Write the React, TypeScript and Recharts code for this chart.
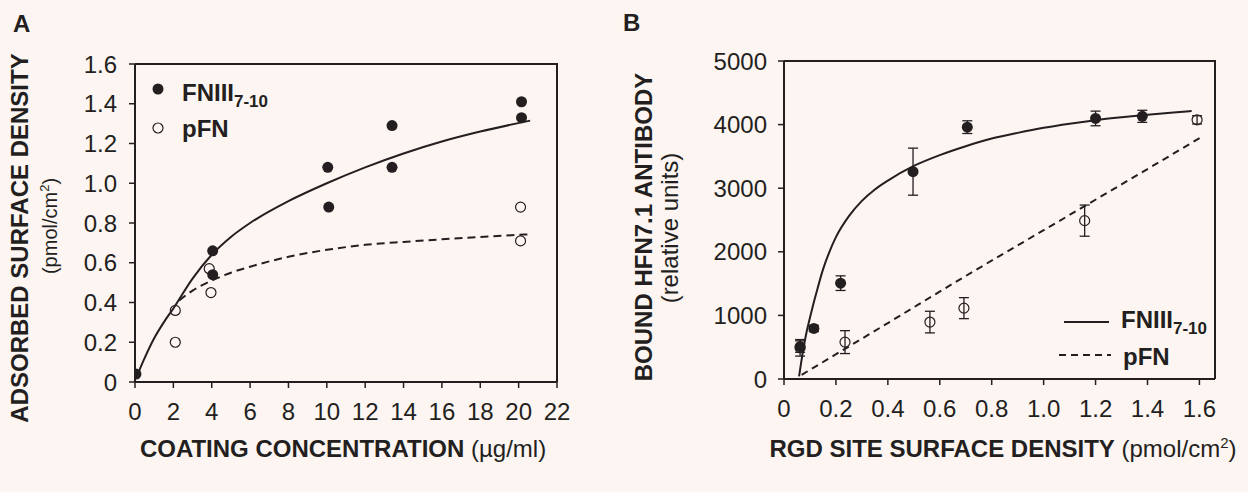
import React from 'react';
import { ComposedChart, Line, Scatter, XAxis, YAxis, ErrorBar, Legend, Label } from 'recharts';

const BG = '#fcf5f2';
const INK = '#231f20';
const FONT = '"Liberation Sans", Arial, Helvetica, sans-serif';

// ---- panel A: adsorbed surface density vs coating concentration
const coatingTicks = [0, 2, 4, 6, 8, 10, 12, 14, 16, 18, 20, 22];
const adsorbedTicks = [0, 0.2, 0.4, 0.6, 0.8, 1.0, 1.2, 1.4, 1.6];

const fnAdsorbed = [
  { x: 0.05, y: 0.04 },
  { x: 4.05, y: 0.66 },
  { x: 4.05, y: 0.54 },
  { x: 10.05, y: 1.08 },
  { x: 10.1, y: 0.88 },
  { x: 13.4, y: 1.29 },
  { x: 13.4, y: 1.08 },
  { x: 20.15, y: 1.41 },
  { x: 20.15, y: 1.33 },
];
const pfnAdsorbed = [
  { x: 2.1, y: 0.36 },
  { x: 2.1, y: 0.2 },
  { x: 3.87, y: 0.57 },
  { x: 3.96, y: 0.45 },
  { x: 20.1, y: 0.88 },
  { x: 20.1, y: 0.71 },
];
// fitted curves
const fnAdsorbedFit = [
  { x: 0.1, y: 0.03 }, { x: 0.5, y: 0.12 }, { x: 1, y: 0.22 }, { x: 1.5, y: 0.3 },
  { x: 2, y: 0.37 }, { x: 3, y: 0.52 }, { x: 4, y: 0.64 }, { x: 5, y: 0.73 },
  { x: 6, y: 0.8 }, { x: 8, y: 0.91 }, { x: 10, y: 1.0 }, { x: 12, y: 1.08 },
  { x: 14, y: 1.15 }, { x: 16, y: 1.21 }, { x: 18, y: 1.26 }, { x: 20.6, y: 1.315 },
];
const pfnAdsorbedFit = [
  { x: 2.3, y: 0.41 }, { x: 3, y: 0.46 }, { x: 4, y: 0.51 }, { x: 5, y: 0.55 },
  { x: 6, y: 0.58 }, { x: 8, y: 0.63 }, { x: 10, y: 0.665 }, { x: 12, y: 0.69 },
  { x: 14, y: 0.705 }, { x: 16, y: 0.718 }, { x: 18, y: 0.73 }, { x: 20.6, y: 0.743 },
];

// ---- panel B: bound antibody vs RGD site surface density
const rgdTicks = [0, 0.2, 0.4, 0.6, 0.8, 1.0, 1.2, 1.4, 1.6];
const antibodyTicks = [0, 1000, 2000, 3000, 4000, 5000];

const fnBound = [
  { x: 0.062, y: 510, err: 90 },
  { x: 0.115, y: 795, err: 50 },
  { x: 0.218, y: 1507, err: 115 },
  { x: 0.497, y: 3260, err: 370 },
  { x: 0.706, y: 3960, err: 100 },
  { x: 1.2, y: 4097, err: 115 },
  { x: 1.38, y: 4130, err: 95 },
];
const pfnBound = [
  { x: 0.062, y: 490, err: 130 },
  { x: 0.235, y: 580, err: 180 },
  { x: 0.562, y: 895, err: 170 },
  { x: 0.693, y: 1114, err: 165 },
  { x: 1.158, y: 2490, err: 245 },
  { x: 1.591, y: 4075, err: 65 },
];
const fnBoundFit = [
  { x: 0.058, y: 40 }, { x: 0.065, y: 230 }, { x: 0.075, y: 480 }, { x: 0.085, y: 700 },
  { x: 0.095, y: 880 }, { x: 0.11, y: 1130 }, { x: 0.125, y: 1360 }, { x: 0.15, y: 1720 },
  { x: 0.175, y: 2000 }, { x: 0.2, y: 2230 }, { x: 0.25, y: 2560 }, { x: 0.3, y: 2800 },
  { x: 0.35, y: 2980 }, { x: 0.4, y: 3120 }, { x: 0.5, y: 3350 }, { x: 0.6, y: 3520 },
  { x: 0.7, y: 3660 }, { x: 0.8, y: 3780 }, { x: 0.9, y: 3870 }, { x: 1.0, y: 3950 },
  { x: 1.1, y: 4015 }, { x: 1.2, y: 4070 }, { x: 1.3, y: 4115 }, { x: 1.4, y: 4155 },
  { x: 1.5, y: 4190 }, { x: 1.57, y: 4212 },
];
const pfnBoundFit = [
  { x: 0.068, y: 65 }, { x: 0.4, y: 880 }, { x: 0.7, y: 1620 },
  { x: 1.0, y: 2340 }, { x: 1.3, y: 3060 }, { x: 1.61, y: 3810 },
];

const fmtDec = (v: number) => (v === 0 ? '0' : v.toFixed(1));
const fmtInt = (v: number) => String(v);

const axisLine = { stroke: INK, strokeWidth: 2 };
const tickLine = { stroke: INK, strokeWidth: 1.5 };

// layout of the two panels
const A = { left: 0, w: 600, h: 492, top: 64, right: 43, yw: 135, xh: 110 };
const B = { left: 600, w: 648, h: 492, top: 61, right: 33, yw: 184, xh: 113 };

const makeTick = (fmt: (v: number) => string, side: 'bottom' | 'left') => (props: any) => (
  <text
    x={props.x}
    y={props.y}
    dy={side === 'bottom' ? '0.71em' : '0.36em'}
    textAnchor={side === 'bottom' ? 'middle' : 'end'}
    fontSize={24}
    fill={INK}
    fontFamily={FONT}
  >
    {fmt(props.payload.value)}
  </text>
);

const filledDot = (p: any) => <circle cx={p.cx} cy={p.cy} r={5.5} fill={INK} />;
const openDot = (p: any) => (
  <circle cx={p.cx} cy={p.cy} r={5} fill="none" stroke={INK} strokeWidth={1.2} />
);

const FnLabel = ({ x, y }: { x: number; y: number }) => (
  <text x={x} y={y} fontSize={24} fontWeight="bold" fill={INK} fontFamily={FONT}>
    FNIII
    <tspan fontSize={17} dy={6}>7-10</tspan>
  </text>
);
const PfnLabel = ({ x, y }: { x: number; y: number }) => (
  <text x={x} y={y} fontSize={24} fontWeight="bold" fill={INK} fontFamily={FONT}>
    pFN
  </text>
);

const LegendA = () => (
  <svg width={200} height={80}>
    <circle cx={13} cy={19} r={5.5} fill={INK} />
    <FnLabel x={37} y={31} />
    <circle cx={13} cy={58} r={5} fill="none" stroke={INK} strokeWidth={1.2} />
    <PfnLabel x={37} y={67} />
  </svg>
);

const LegendB = () => (
  <svg width={170} height={80}>
    <line x1={9} x2={54} y1={27} y2={27} stroke={INK} strokeWidth={2} />
    <FnLabel x={66} y={33} />
    <line x1={4} x2={56} y1={60} y2={60} stroke={INK} strokeWidth={2} strokeDasharray="7 5" />
    <PfnLabel x={68} y={70} />
  </svg>
);

const TitlesA = () => (
  <g fontFamily={FONT} fill={INK}>
    <text x={13} y={32} fontSize={24} fontWeight="bold">A</text>
    <text transform="translate(28,238) rotate(-90)" textAnchor="middle" fontSize={24} fontWeight="bold">
      ADSORBED SURFACE DENSITY
    </text>
    <text transform="translate(57,226) rotate(-90)" textAnchor="middle" fontSize={20}>
      (pmol/cm<tspan fontSize={13} dy={-8}>2</tspan>
      <tspan dy={8}>)</tspan>
    </text>
  </g>
);
const XTitleA = () => (
  <text x={343} y={457} textAnchor="middle" fontSize={24} fill={INK} fontFamily={FONT}>
    <tspan fontWeight="bold">COATING CONCENTRATION</tspan>
    <tspan>{' (µg/ml)'}</tspan>
  </text>
);

const TitlesB = () => (
  <g fontFamily={FONT} fill={INK}>
    <text x={23} y={31} fontSize={24} fontWeight="bold">B</text>
    <text transform="translate(52,227) rotate(-90)" textAnchor="middle" fontSize={24} fontWeight="bold">
      {'BOUND HFN7.1  ANTIBODY'}
    </text>
    <text transform="translate(78,228) rotate(-90)" textAnchor="middle" fontSize={24}>
      (relative units)
    </text>
  </g>
);
const XTitleB = () => (
  <text x={403} y={457} textAnchor="middle" fontSize={24} fill={INK} fontFamily={FONT}>
    <tspan fontWeight="bold">RGD SITE SURFACE DENSITY</tspan>
    <tspan>{' (pmol/cm'}</tspan>
    <tspan fontSize={15} dy={-9}>2</tspan>
    <tspan dy={9}>)</tspan>
  </text>
);

// top and right edges of a panel's plot box
const Frame = ({ p }: { p: typeof A }) => (
  <div
    style={{
      position: 'absolute',
      left: p.left + p.yw,
      top: p.top - 1,
      width: p.w - p.right - p.yw + 1,
      height: p.h - p.xh - p.top + 1,
      borderTop: `2px solid ${INK}`,
      borderRight: `2px solid ${INK}`,
      boxSizing: 'border-box',
      pointerEvents: 'none',
    }}
  />
);

function PanelA() {
  return (
    <ComposedChart width={A.w} height={A.h} margin={{ top: A.top, right: A.right, bottom: 0, left: 0 }}>
      <XAxis
        type="number"
        dataKey="x"
        domain={[0, 22]}
        ticks={coatingTicks}
        interval={0}
        allowDataOverflow
        height={A.xh}
        tick={makeTick(fmtInt, 'bottom')}
        tickLine={tickLine}
        axisLine={axisLine}
        tickSize={6}
        tickMargin={15}
      >
        <Label content={XTitleA} />
      </XAxis>
      <YAxis
        type="number"
        dataKey="y"
        domain={[0, 1.6]}
        ticks={adsorbedTicks}
        interval={0}
        allowDataOverflow
        width={A.yw}
        tick={makeTick(fmtDec, 'left')}
        tickLine={tickLine}
        axisLine={axisLine}
        tickSize={6}
        tickMargin={12}
      >
        <Label content={TitlesA} />
      </YAxis>
      <Line data={fnAdsorbedFit} dataKey="y" type="monotone" stroke={INK} strokeWidth={2} dot={false} legendType="none" isAnimationActive={false} />
      <Line data={pfnAdsorbedFit} dataKey="y" type="monotone" stroke={INK} strokeWidth={2} strokeDasharray="8 5" dot={false} legendType="none" isAnimationActive={false} />
      <Scatter data={pfnAdsorbed} dataKey="y" shape={openDot} isAnimationActive={false} />
      <Scatter data={fnAdsorbed} dataKey="y" shape={filledDot} isAnimationActive={false} />
      <Legend
        layout="horizontal"
        verticalAlign="middle"
        align="center"
        content={() => <LegendA />}
        wrapperStyle={{ left: 145, top: 70, width: 200, height: 80 }}
      />
    </ComposedChart>
  );
}

function PanelB() {
  return (
    <ComposedChart width={B.w} height={B.h} margin={{ top: B.top, right: B.right, bottom: 0, left: 0 }}>
      <XAxis
        type="number"
        dataKey="x"
        domain={[0, 1.66]}
        ticks={rgdTicks}
        interval={0}
        allowDataOverflow
        height={B.xh}
        tick={makeTick(fmtDec, 'bottom')}
        tickLine={tickLine}
        axisLine={axisLine}
        tickSize={6}
        tickMargin={15}
      >
        <Label content={XTitleB} />
      </XAxis>
      <YAxis
        type="number"
        dataKey="y"
        domain={[0, 5000]}
        ticks={antibodyTicks}
        interval={0}
        allowDataOverflow
        width={B.yw}
        tick={makeTick(fmtInt, 'left')}
        tickLine={tickLine}
        axisLine={axisLine}
        tickSize={6}
        tickMargin={11}
      >
        <Label content={TitlesB} />
      </YAxis>
      <Line data={fnBoundFit} dataKey="y" type="monotone" stroke={INK} strokeWidth={2} dot={false} legendType="none" isAnimationActive={false} />
      <Line data={pfnBoundFit} dataKey="y" type="monotone" stroke={INK} strokeWidth={2} strokeDasharray="7 5" dot={false} legendType="none" isAnimationActive={false} />
      <Scatter data={pfnBound} dataKey="y" shape={openDot} isAnimationActive={false}>
        <ErrorBar dataKey="err" direction="y" width={5} stroke={INK} strokeWidth={1.3} />
      </Scatter>
      <Scatter data={fnBound} dataKey="y" shape={filledDot} isAnimationActive={false}>
        <ErrorBar dataKey="err" direction="y" width={5} stroke={INK} strokeWidth={1.3} />
      </Scatter>
      <Legend
        layout="horizontal"
        verticalAlign="middle"
        align="center"
        content={() => <LegendB />}
        wrapperStyle={{ left: 455, top: 295, width: 170, height: 80 }}
      />
    </ComposedChart>
  );
}

export default function App() {
  return (
    <div style={{ position: 'absolute', left: 0, top: 0, width: 1248, height: 492, background: BG, overflow: 'hidden' }}>
      <div style={{ position: 'absolute', left: A.left, top: 0 }}>
        <PanelA />
      </div>
      <div style={{ position: 'absolute', left: B.left, top: 0 }}>
        <PanelB />
      </div>
      <Frame p={A} />
      <Frame p={B} />
    </div>
  );
}
